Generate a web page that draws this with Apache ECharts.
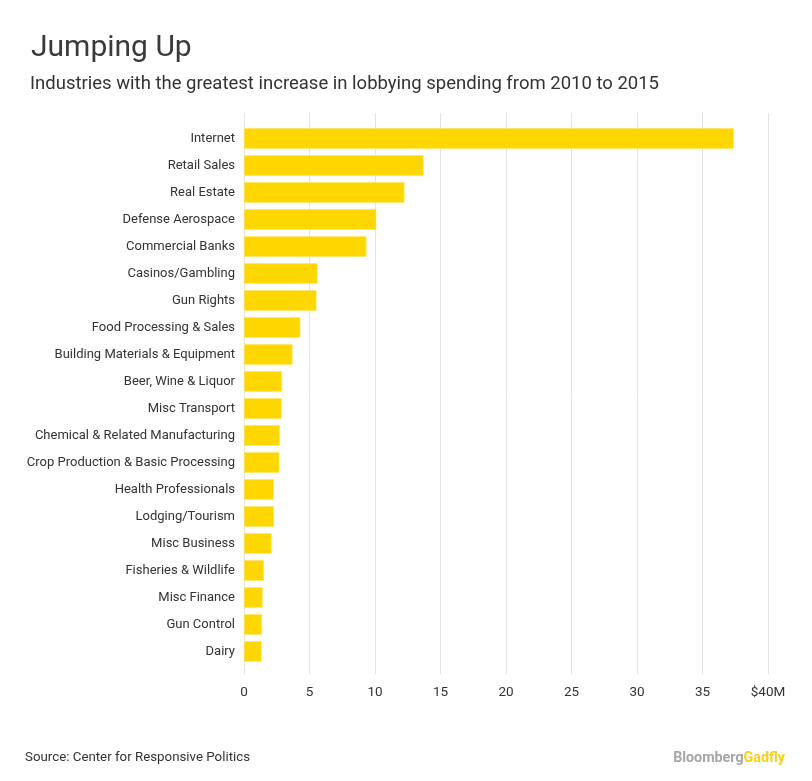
<!DOCTYPE html>
<html>
<head>
<meta charset="utf-8">
<script src="https://cdn.jsdelivr.net/npm/echarts@6/dist/echarts.min.js"></script>
<style>html,body{margin:0;padding:0;background:#fff;}#chart{width:812px;height:781px;}</style>
</head>
<body>
<div id="chart"></div>
<script>
const categories = ["Internet","Retail Sales","Real Estate","Defense Aerospace","Commercial Banks","Casinos/Gambling","Gun Rights","Food Processing & Sales","Building Materials & Equipment","Beer, Wine & Liquor","Misc Transport","Chemical & Related Manufacturing","Crop Production & Basic Processing","Health Professionals","Lodging/Tourism","Misc Business","Fisheries & Wildlife","Misc Finance","Gun Control","Dairy"];
const values = [37.4,13.7,12.25,10.1,9.35,5.62,5.53,4.3,3.7,2.9,2.87,2.74,2.69,2.28,2.28,2.1,1.52,1.42,1.37,1.34];
const tickLabels = {0:"0",5:"5",10:"10",15:"15",20:"20",25:"25",30:"30",35:"35",40:"$40M"};

const FONT = "Roboto";
const chart = echarts.init(document.getElementById('chart'));
chart.setOption({
  animation: false,
  backgroundColor: '#fff',
  grid: [
    {left: 244, right: 44, top: 125, height: 540, containLabel: false},
    {left: 244, right: 44, top: 113, bottom: 107, containLabel: false}
  ],
  xAxis: [
    {gridIndex: 0, type: 'value', min: 0, max: 40, interval: 5, show: false},
    {gridIndex: 1, type: 'value', min: 0, max: 40, interval: 5,
     axisLine: {show: false}, axisTick: {show: false},
     splitLine: {show: true, lineStyle: {color: '#e3e3e3', width: 1}},
     axisLabel: {color: '#333', fontSize: 13.5, fontFamily: FONT, margin: 12,
       formatter: v => tickLabels[v] !== undefined ? tickLabels[v] : ''}}
  ],
  yAxis: [
    {gridIndex: 0, type: 'category', data: categories, inverse: true,
     axisLine: {show: false}, axisTick: {show: false}, splitLine: {show: false},
     axisLabel: {color: '#333', fontSize: 13, fontFamily: FONT, margin: 9}},
    {gridIndex: 1, type: 'category', data: [''], show: false}
  ],
  series: [{
    type: 'bar', xAxisIndex: 0, yAxisIndex: 0, data: values,
    barCategoryGap: '24%',
    itemStyle: {color: '#ffd700', borderColor: '#ffe45c', borderWidth: 0.6},
    z: 3
  }],
  graphic: [
    {type: 'text', left: 31, top: 33, style: {text: 'Jumping Up', fontSize: 30, fontFamily: FONT, fill: '#3a3a3a'}},
    {type: 'text', left: 30, top: 74.5, style: {text: 'Industries with the greatest increase in lobbying spending from 2010 to 2015', fontSize: 18.5, fontFamily: FONT, fill: '#333'}},
    {type: 'text', left: 25, top: 751, style: {text: 'Source: Center for Responsive Politics', fontSize: 13.3, fontFamily: FONT, fill: '#333'}},
    {type: 'text', right: 27, top: 751, style: {
      text: '{a|Bloomberg}{b|Gadfly}',
      rich: {
        a: {fontSize: 14.3, fontFamily: 'Liberation Sans Narrow, Roboto', fontWeight: 'bold', fill: '#a6a6a6', color: '#a6a6a6'},
        b: {fontSize: 14.3, fontFamily: 'Liberation Sans Narrow, Roboto', fontWeight: 'bold', fill: '#f7d117', color: '#f7d117'}
      }}}
  ]
});
</script>
</body>
</html>
